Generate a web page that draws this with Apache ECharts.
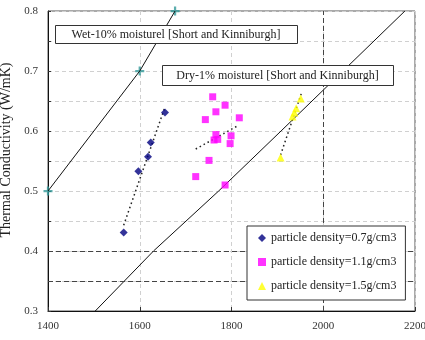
<!DOCTYPE html>
<html>
<head>
<meta charset="utf-8">
<script src="https://cdn.jsdelivr.net/npm/echarts@6/dist/echarts.min.js"></script>
<style>
    html, body { margin: 0; padding: 0; background: #fff; }
    #chart { width: 425px; height: 340px; }
</style>
</head>
<body>
<div id="chart"></div>
<script>
// data
var seriesNames = ['particle density=0.7g/cm3', 'particle density=1.1g/cm3', 'particle density=1.5g/cm3'];
var dens07 = [[1565, 0.431], [1597, 0.533], [1618, 0.557], [1624, 0.581], [1655, 0.631]];
var dens11 = [[1722, 0.524], [1751, 0.551], [1759, 0.657], [1743, 0.619], [1766, 0.632], [1786, 0.643],
    [1817, 0.622], [1766, 0.594], [1799, 0.592], [1762, 0.585], [1770, 0.586], [1797, 0.579], [1786, 0.51]];
var dens15 = [[1907, 0.556], [1933, 0.624], [1937, 0.631], [1941, 0.638], [1951, 0.654]];
var trend07 = [[1565, 0.443], [1655, 0.64]];
var trend11 = [[1722, 0.57], [1812, 0.608]];
var trend15 = [[1907, 0.56], [1952, 0.662]];
var wetLine = [[1400, 0.5], [1500, 0.6], [1600, 0.7], [1677, 0.8]];
var wetMarks = [[1400, 0.5], [1600, 0.7], [1677, 0.8]];
var dryLine = [[1503, 0.3], [1630, 0.4], [1772, 0.5], [1908, 0.6], [2043, 0.7], [2178, 0.8]];
var refY = [0.35, 0.4];
var refX = [2000];
var wetText = 'Wet-10% moisturel [Short and Kinniburgh]';
var dryText = 'Dry-1% moisturel [Short and Kinniburgh]';
var yTitle = 'Thermal Conductivity (W/mK)';

var font = '"Liberation Serif", "Times New Roman", serif';

var marks = [];
refY.forEach(function (v) { marks.push({ yAxis: v }); });
refX.forEach(function (v) { marks.push({ xAxis: v }); });

function trend(data) {
    return {
        type: 'line', data: data, symbol: 'none', silent: true, z: 3,
        lineStyle: { color: '#222', width: 1.5, type: [1.5, 3] }
    };
}

function box(x, y, w, h, text) {
    return {
        type: 'group', x: x, y: y, z: 100,
        children: [
            { type: 'rect', z: 100, shape: { x: 0.5, y: 0.5, width: w, height: h }, style: { fill: '#fff', stroke: '#333', lineWidth: 1 } },
            { type: 'text', z: 101, x: w / 2, y: h / 2 + 1, style: { text: text, fill: '#222', font: '12px ' + font, align: 'center', verticalAlign: 'middle' } }
        ]
    };
}

var myChart = echarts.init(document.getElementById('chart'));
myChart.setOption({
    animation: false,
    grid: {
        left: 48, right: 10, top: 11, bottom: 29,
        show: true, borderColor: '#555', borderWidth: 1,
        outerBoundsMode: 'none'
    },
    xAxis: {
        type: 'value', min: 1400, max: 2200, interval: 200,
        axisLine: { lineStyle: { color: '#111' } },
        axisTick: { inside: true, length: 4, lineStyle: { color: '#333' } },
        axisLabel: { color: '#333', fontFamily: font, fontSize: 11, margin: 10, formatter: function (v) { return String(v); } },
        splitLine: { lineStyle: { color: '#d0d0d0', type: [4, 3] } }
    },
    yAxis: {
        type: 'value', min: 0.3, max: 0.8, interval: 0.05,
        axisLine: { show: true, lineStyle: { color: '#111' } },
        axisTick: { show: true, inside: true, length: 3, lineStyle: { color: '#333' } },
        axisLabel: {
            color: '#333', fontFamily: font, fontSize: 11, margin: 10,
            formatter: function (v) {
                return Math.round(v * 20) % 2 === 0 ? v.toFixed(1) : '';
            }
        },
        splitLine: { lineStyle: { color: '#d0d0d0', type: [4, 3] } }
    },
    legend: {
        orient: 'vertical', left: 247, top: 226, z: 20,
        itemWidth: 8, itemHeight: 8, itemGap: 12,
        padding: [6, 9, 8, 11],
        borderColor: '#333', borderWidth: 1, backgroundColor: '#fff',
        textStyle: { fontFamily: font, fontSize: 12, color: '#222' },
        data: [
            { name: seriesNames[0], icon: 'diamond' },
            { name: seriesNames[1], icon: 'rect' },
            { name: seriesNames[2], icon: 'triangle' }
        ]
    },
    graphic: {
        z: 50,
        elements: [
            box(55, 25, 242, 18, wetText),
            box(162, 65, 231, 20, dryText),
            {
                type: 'text', x: 6, y: 150, rotation: Math.PI / 2, z: 100,
                style: { text: yTitle, fill: '#222', font: '14px ' + font, align: 'center', verticalAlign: 'middle' }
            }
        ]
    },
    series: [
        {
            type: 'line', data: wetLine, symbol: 'none', silent: true,
            lineStyle: { color: '#111', width: 1 },
            markLine: {
                silent: true, symbol: 'none', label: { show: false },
                lineStyle: { color: '#444', width: 1, type: [5, 3] },
                data: marks
            }
        },
        {
            type: 'scatter', data: wetMarks, silent: true,
            symbol: 'path://M3,0H5V3H8V5H5V8H3V5H0V3H3Z', symbolSize: 9,
            itemStyle: { color: '#339999' }
        },
        {
            type: 'line', data: dryLine, symbol: 'none', silent: true,
            lineStyle: { color: '#111', width: 1 }
        },
        trend(trend07),
        trend(trend11),
        trend(trend15),
        {
            name: seriesNames[0], type: 'scatter', data: dens07, z: 4,
            symbol: 'diamond', symbolSize: 8, itemStyle: { color: '#000080' }
        },
        {
            name: seriesNames[1], type: 'scatter', data: dens11, z: 4,
            symbol: 'rect', symbolSize: 7, itemStyle: { color: '#ff00ff' }
        },
        {
            name: seriesNames[2], type: 'scatter', data: dens15, z: 4,
            symbol: 'triangle', symbolSize: 8, itemStyle: { color: '#ffff00' }
        }
    ]
});
</script>
</body>
</html>
